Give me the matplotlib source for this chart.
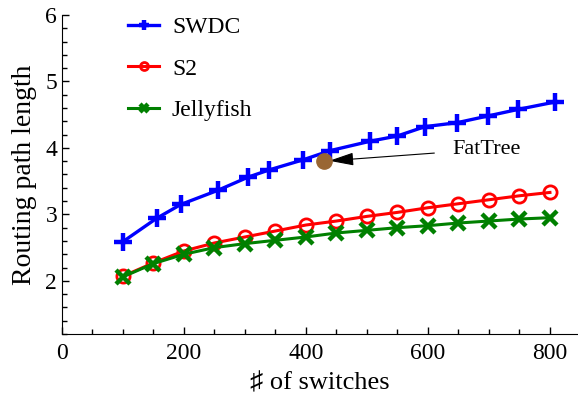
import matplotlib
matplotlib.use("Agg")
import matplotlib.pyplot as plt
from matplotlib.ticker import MultipleLocator

plt.rcParams['font.family'] = ['Liberation Serif', 'DejaVu Serif']

# data
swdc_x = [100, 155, 195, 255, 305, 340, 395, 440, 505, 550, 595, 648, 698, 748, 808]
swdc_y = [2.59, 2.94, 3.15, 3.36, 3.56, 3.67, 3.82, 3.96, 4.10, 4.18, 4.32, 4.38, 4.48, 4.58, 4.69]

n_x = [100, 150, 200, 250, 300, 350, 400, 450, 500, 550, 600, 650, 700, 750, 800]
s2_y = [2.07, 2.27, 2.45, 2.57, 2.66, 2.75, 2.84, 2.90, 2.97, 3.03, 3.10, 3.16, 3.22, 3.28, 3.33]
jelly_y = [2.06, 2.26, 2.40, 2.50, 2.56, 2.61, 2.66, 2.72, 2.76, 2.80, 2.83, 2.87, 2.90, 2.93, 2.95]

fattree = (429, 3.80)

fig = plt.figure(figsize=(5.78, 3.98), dpi=100)
ax = fig.add_axes([62 / 578, 64 / 398, 516 / 578, 319 / 398])

ax.plot(swdc_x, swdc_y, color='#0000ff', lw=2.4, marker='+', ms=13, mew=3.2, label='SWDC')
ax.plot(n_x, s2_y, color='#ff0000', lw=2.2, marker='o', ms=9.5, mew=2, mfc='none', label='S2')
ax.plot(n_x, jelly_y, color='#008000', lw=2.2, marker='x', ms=10, mew=3.2, label='Jellyfish')

ax.plot(*fattree, 'o', color='#996633', ms=11, zorder=5)
ax.annotate('FatTree', xy=fattree, xytext=(640, 3.98), ha='left', va='center', fontsize=16,
            arrowprops=dict(arrowstyle='-|>,head_length=0.95,head_width=0.25', color='black',
                            lw=0.8, shrinkA=11, shrinkB=4))

ax.set_xlim(0, 846)
ax.set_ylim(1.2, 6)
ax.xaxis.set_major_locator(MultipleLocator(200))
ax.xaxis.set_minor_locator(MultipleLocator(50))
ax.yaxis.set_major_locator(MultipleLocator(1))
ax.yaxis.set_minor_locator(MultipleLocator(0.2))
ax.tick_params(which='both', direction='in', labelsize=17, width=1)
ax.tick_params(axis='x', which='both', pad=6.5)
ax.tick_params(which='major', length=5)
ax.tick_params(which='minor', length=3.5)
ax.spines['top'].set_visible(False)
ax.spines['right'].set_visible(False)

ax.set_xlabel('\u266f of switches', fontsize=19, labelpad=6)
ax.set_ylabel('Routing path length', fontsize=20, labelpad=6)

ax.legend(loc='upper left', bbox_to_anchor=(0.11, 1.025), frameon=False, fontsize=17,
          markerscale=0.6, handlelength=1.3, handletextpad=0.55, labelspacing=0.85,
          borderaxespad=0)

fig.savefig('out.png', dpi=100)
